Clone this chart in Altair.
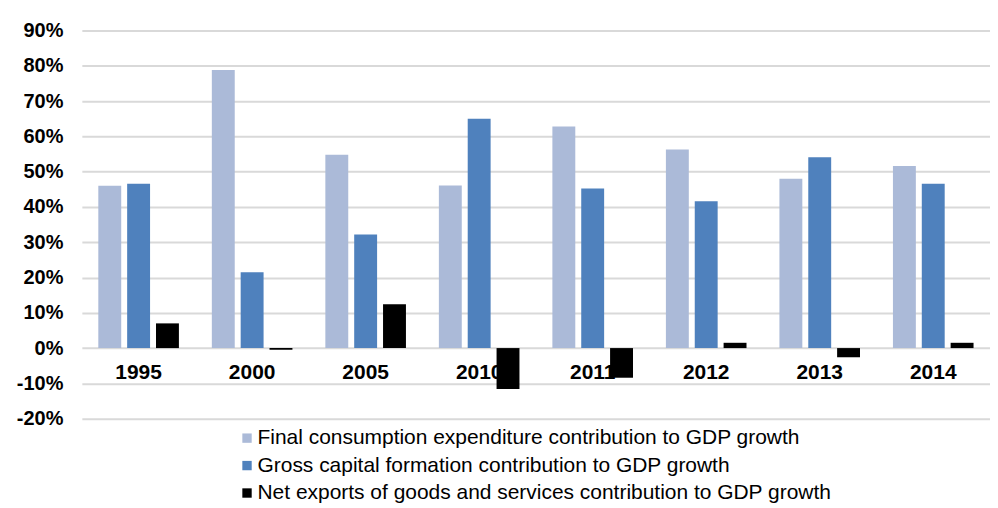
import altair as alt
import pandas as pd

years = ["1995", "2000", "2005", "2010", "2011", "2012", "2013", "2014"]
series = [
    "Final consumption expenditure contribution to GDP growth",
    "Gross capital formation contribution to GDP growth",
    "Net exports of goods and services contribution to GDP growth",
]
final_cons = [46.0, 78.8, 54.8, 46.1, 62.8, 56.3, 48.0, 51.6]
gross_cap = [46.6, 21.5, 32.2, 65.0, 45.2, 41.6, 54.1, 46.6]
net_exp = [7.0, -0.5, 12.4, -11.6, -8.4, 1.5, -2.6, 1.5]
colors = ["#ABBAD8", "#4F81BD", "#000000"]
y_ticks = [-20, -10, 0, 10, 20, 30, 40, 50, 60, 70, 80, 90]

rows = []
for s, vals in zip(series, [final_cons, gross_cap, net_exp]):
    for yr, v in zip(years, vals):
        rows.append({"year": yr, "series": s, "value": v})
df = pd.DataFrame(rows)
df_years = pd.DataFrame({"year": years, "zero": [0] * len(years)})

xscale = alt.Scale(paddingInner=0.29, paddingOuter=0.145)
yscale = alt.Scale(domain=[-20, 90], nice=False, zero=False)

yaxis = alt.Axis(
    values=y_ticks,
    labelExpr="datum.value + '%'",
    title=None,
    domain=False,
    ticks=False,
    grid=True,
    gridColor="#D9D9D9",
    gridWidth=2,
    labelFont="Liberation Sans",
    labelFontWeight="bold",
    labelFontSize=20,
    labelColor="#000000",
    labelPadding=19,
    labelOverlap=False,
)

labels = alt.Chart(df_years).mark_text(
    font="Liberation Sans", fontWeight="bold", fontSize=21, dy=25, color="#000000"
).encode(
    x=alt.X("year:N", scale=xscale, axis=None),
    y=alt.Y("zero:Q", scale=yscale, axis=yaxis),
    text="year:N",
)

bars = alt.Chart(df).mark_bar().encode(
    x=alt.X("year:N", scale=xscale, axis=None),
    xOffset=alt.XOffset("series:N", sort=series, scale=alt.Scale(paddingInner=0.206, paddingOuter=0)),
    y=alt.Y("value:Q", scale=yscale, axis=yaxis),
    color=alt.Color(
        "series:N",
        sort=series,
        scale=alt.Scale(domain=series, range=colors),
        legend=alt.Legend(
            title=None,
            orient="none",
            legendX=155,
            legendY=398,
            symbolType="square",
            symbolSize=88,
            symbolStrokeWidth=0,
            labelFont="Liberation Sans",
            labelFontSize=21,
            labelColor="#000000",
            rowPadding=5.5,
            labelLimit=900,
            labelOffset=0,
            padding=0,
        ),
    ),
)

chart = alt.layer(labels, bars).properties(
    width=910,
    height=389,
    padding={"top": 12, "left": 8, "right": 0, "bottom": 0},
    background="#FFFFFF",
).configure_view(stroke=None)

chart.save("out.html", embed_options={"renderer": "svg", "actions": False})
